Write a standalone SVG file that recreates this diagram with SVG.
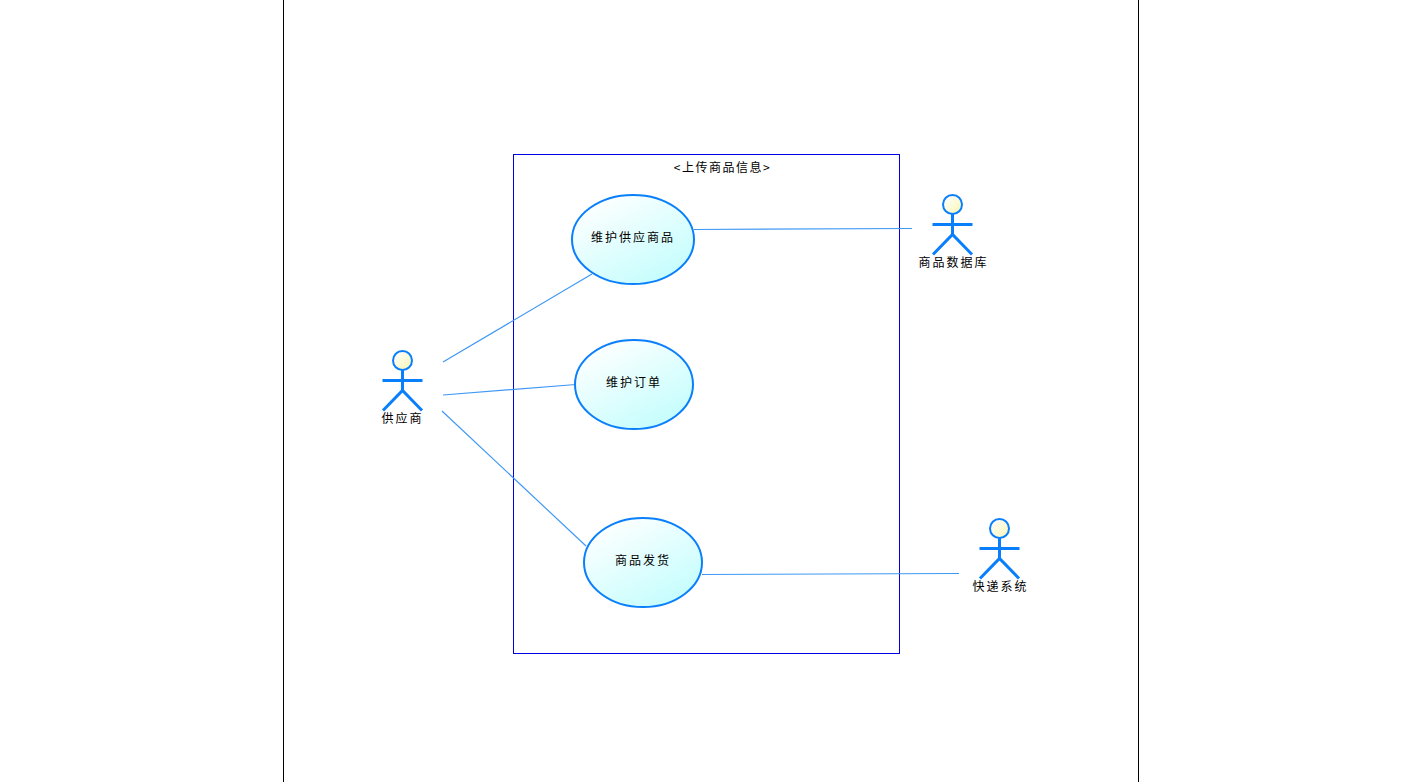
<svg xmlns="http://www.w3.org/2000/svg" width="1401" height="782" viewBox="0 0 1401 782">
<defs>
<linearGradient id="uc" x1="0.15" y1="0.05" x2="0.8" y2="0.95"><stop offset="0" stop-color="#ffffff"/><stop offset="1" stop-color="#c4fdfd"/></linearGradient>
<linearGradient id="head" x1="0.1" y1="0.1" x2="0.9" y2="0.9"><stop offset="0" stop-color="#ffffff"/><stop offset="1" stop-color="#f8f6b8"/></linearGradient>
<g id="actor">
<circle cx="0" cy="9.500" r="9.500" fill="url(#head)" stroke="#0a7ffb" stroke-width="2"/>
<path d="M0 19V39M-20 29.500H20M-19.500 59.500L0 39.500L19.500 59.500" fill="none" stroke="#0a7ffb" stroke-width="3"/>
</g>
</defs>
<style>
text{font-family:"Noto Sans CJK SC","Liberation Sans",sans-serif;font-size:12px;fill:#000;text-anchor:middle;letter-spacing:2px}
#system text{letter-spacing:1.500px}
.uc{fill:url(#uc);stroke:#0a7ffb;stroke-width:2}
.c{fill:none;stroke:#3f98f5;stroke-width:1.200}
</style>
<rect width="1401" height="782" fill="#fff"/>
<path d="M283.500 0V782M1138.500 0V782" stroke="#000" fill="none"/>
<g id="system">
<rect x="513.500" y="154.500" width="386" height="499" fill="#fff" stroke="#0000e6"/>
<text x="722.500" y="172">&lt;上传商品信息&gt;</text>
</g>
<g id="connectors">
<path class="c" d="M694 229.500L912 228.500"/>
<path class="c" d="M443 362L592 274"/>
<path class="c" d="M443 395L576 384.500"/>
<path class="c" d="M442 411L586 546"/>
<path class="c" d="M702 574.500L959 573.500"/>
</g>
<g id="uc1"><ellipse class="uc" cx="633" cy="239.500" rx="61" ry="44.500"/><text x="633" y="242">维护供应商品</text></g>
<g id="uc2"><ellipse class="uc" cx="634" cy="384.500" rx="59" ry="44.500"/><text x="634" y="387">维护订单</text></g>
<g id="uc3"><ellipse class="uc" cx="643" cy="562.500" rx="59" ry="44.500"/><text x="643" y="565">商品发货</text></g>
<g id="actor1"><use href="#actor" x="402.500" y="351"/><text x="402.500" y="423">供应商</text></g>
<g id="actor2"><use href="#actor" x="952.500" y="195"/><text x="953.500" y="267">商品数据库</text></g>
<g id="actor3"><use href="#actor" x="999.500" y="519"/><text x="1000.500" y="591">快递系统</text></g>
</svg>
